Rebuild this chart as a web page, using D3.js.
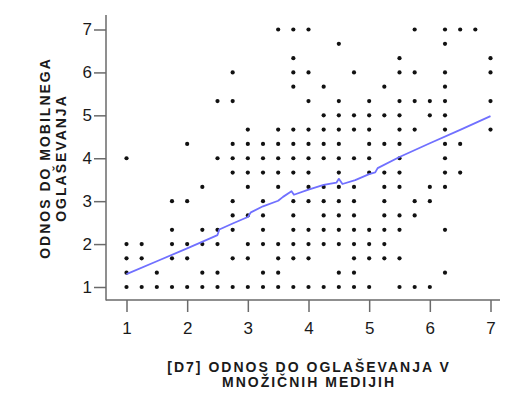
<!DOCTYPE html>
<html>
<head>
<meta charset="utf-8">
<script src="https://cdn.jsdelivr.net/npm/d3@7"></script>
<style>
  html, body { margin: 0; padding: 0; background: #fff; }
  svg { display: block; }
</style>
</head>
<body>
<svg id="chart" width="508" height="394"></svg>
<script>
// ---------------- data ----------------
const xTicks = [1, 2, 3, 4, 5, 6, 7];
const yTicks = [1, 2, 3, 4, 5, 6, 7];

// y levels of the observed points (scale steps of 1/3)
const yLevels = [7, 6.667, 6.333, 6, 5.667, 5.333, 5, 4.667, 4.333, 4,
                 3.667, 3.333, 3, 2.667, 2.333, 2, 1.667, 1.333, 1];

// x values (steps of 1/4) of points found on each y level, same order as yLevels
const xAtLevel = [
  [3.5, 3.75, 4, 5.75, 6.25, 6.5, 6.75],
  [4.5, 6.25],
  [3.75, 5.5, 7],
  [2.75, 3.75, 4, 4.75, 5.5, 5.75, 6.25, 7],
  [3.75, 4.25, 5.25, 6.25],
  [2.5, 2.75, 4, 4.5, 5, 5.5, 5.75, 6, 6.25, 7],
  [4.25, 4.5, 4.75, 5, 5.25, 5.5, 6, 6.25],
  [3, 3.5, 3.75, 4, 4.25, 4.5, 4.75, 5, 5.5, 5.75, 6.25, 7],
  [2, 2.75, 3, 3.25, 3.5, 3.75, 4, 4.25, 4.5, 5, 5.25, 5.5, 6.25, 6.5],
  [1, 2.5, 2.75, 3, 3.25, 3.5, 3.75, 4, 4.25, 4.5, 4.75, 5, 5.5, 6.25],
  [2.75, 3, 3.25, 3.5, 3.75, 4, 4.5, 5, 5.25, 5.5, 6.25, 6.5],
  [2.25, 3, 3.5, 4, 4.25, 4.5, 4.75, 5.25, 5.5, 6, 6.25],
  [1.75, 2, 2.75, 3.25, 3.75, 4, 4.25, 4.5, 4.75, 5.25, 5.75, 6],
  [2.75, 3, 3.25, 3.75, 4.25, 4.5, 4.75, 5.25, 5.5, 5.75],
  [1.75, 2.25, 2.5, 2.75, 3.25, 3.75, 4, 4.25, 4.5, 4.75, 5, 5.25, 5.5, 6.25],
  [1, 1.25, 1.75, 2, 2.25, 2.5, 3, 3.25, 3.5, 3.75, 4, 4.25, 4.5, 4.75, 5, 5.25],
  [1, 1.25, 1.75, 2, 2.75, 3, 3.5, 3.75, 4, 4.75, 5, 5.25, 5.5],
  [1, 1.5, 2.25, 2.5, 3.25, 3.5, 4.5, 4.75, 6.25],
  [1, 1.25, 1.5, 1.75, 2, 2.25, 2.5, 2.75, 3, 3.25, 3.5, 3.75, 4, 4.25, 4.5, 4.75, 5, 5.5, 5.75, 6]
];

// Loess fit line
const loessX = [1.0, 1.5, 2.0, 2.5, 2.53, 2.75, 3.0, 3.05, 3.25, 3.5, 3.58, 3.72, 3.76, 4.0, 4.25, 4.46, 4.5, 4.56, 4.77, 5.0, 5.1, 5.14, 5.5, 6.0, 6.5, 7.0];
const loessY = [1.30, 1.60, 1.90, 2.21, 2.34, 2.48, 2.63, 2.74, 2.88, 3.01, 3.10, 3.23, 3.15, 3.27, 3.38, 3.43, 3.52, 3.40, 3.49, 3.63, 3.67, 3.77, 4.03, 4.35, 4.66, 4.98];

const xTitle = ["[D7] ODNOS DO OGLAŠEVANJA V", "MNOŽIČNIH MEDIJIH"];
const yTitle = ["ODNOS DO MOBILNEGA", "OGLAŠEVANJA"];

// ---------------- drawing ----------------
const svg = d3.select("#chart");
const axisX0 = 106, axisY0 = 300, axisTop = 15, axisRight = 500;

const x = d3.scaleLinear().domain([1, 7]).range([126.5, 490.5]);
const y = d3.scaleLinear().domain([1, 7]).range([287, 29.5]);

const axisColor = "#6a6a6a";
const font = "'Liberation Sans', Arial, sans-serif";

// axis lines
svg.append("line").attr("x1", axisX0).attr("x2", axisX0).attr("y1", axisTop).attr("y2", axisY0 + 0.5)
  .attr("stroke", axisColor).attr("stroke-width", 1.5);
svg.append("line").attr("x1", axisX0).attr("x2", axisRight).attr("y1", axisY0).attr("y2", axisY0)
  .attr("stroke", axisColor).attr("stroke-width", 1.5);

// x axis
const gx = svg.append("g").attr("transform", `translate(0,${axisY0})`)
  .call(d3.axisBottom(x).tickValues(xTicks).tickFormat(d3.format("d")).tickSize(12).tickPadding(10));
gx.select(".domain").remove();
gx.selectAll(".tick line").attr("stroke", axisColor).attr("stroke-width", 1.5);
gx.selectAll(".tick text").attr("font-family", font).attr("font-size", 17).attr("fill", "#1a1a1a");

// y axis
const gy = svg.append("g").attr("transform", `translate(${axisX0},0)`)
  .call(d3.axisLeft(y).tickValues(yTicks).tickFormat(d3.format("d")).tickSize(12).tickPadding(2));
gy.select(".domain").remove();
gy.selectAll(".tick line").attr("stroke", axisColor).attr("stroke-width", 1.5);
gy.selectAll(".tick text").attr("font-family", font).attr("font-size", 17).attr("fill", "#1a1a1a");

// points
const pts = [];
yLevels.forEach((yv, i) => xAtLevel[i].forEach(xv => pts.push({ x: xv, y: yv })));
svg.append("g").selectAll("circle").data(pts).join("circle")
  .attr("cx", d => x(d.x)).attr("cy", d => y(d.y)).attr("r", 2.1)
  .attr("fill", "#111");

// loess line
const lineData = loessX.map((v, i) => [v, loessY[i]]);
svg.append("path").datum(lineData)
  .attr("d", d3.line().x(d => x(d[0])).y(d => y(d[1])))
  .attr("fill", "none").attr("stroke", "#7070ff").attr("stroke-width", 1.8)
  .attr("stroke-linejoin", "round");

// x title
const xt = svg.append("text").attr("x", 309).attr("y", 372)
  .attr("text-anchor", "middle").attr("font-family", font).attr("font-weight", "bold")
  .attr("font-size", 14).attr("letter-spacing", 2).attr("fill", "#1a1a1a");
xTitle.forEach((t, i) => xt.append("tspan").attr("x", 309).attr("dy", i === 0 ? 0 : 15).text(t));

// y title
const yt = svg.append("text").attr("transform", "translate(50,158) rotate(-90)")
  .attr("text-anchor", "middle").attr("font-family", font).attr("font-weight", "bold")
  .attr("font-size", 14).attr("letter-spacing", 2).attr("fill", "#1a1a1a");
yTitle.forEach((t, i) => yt.append("tspan").attr("x", 0).attr("dy", i === 0 ? 0 : 16).text(t));
</script>
</body>
</html>
